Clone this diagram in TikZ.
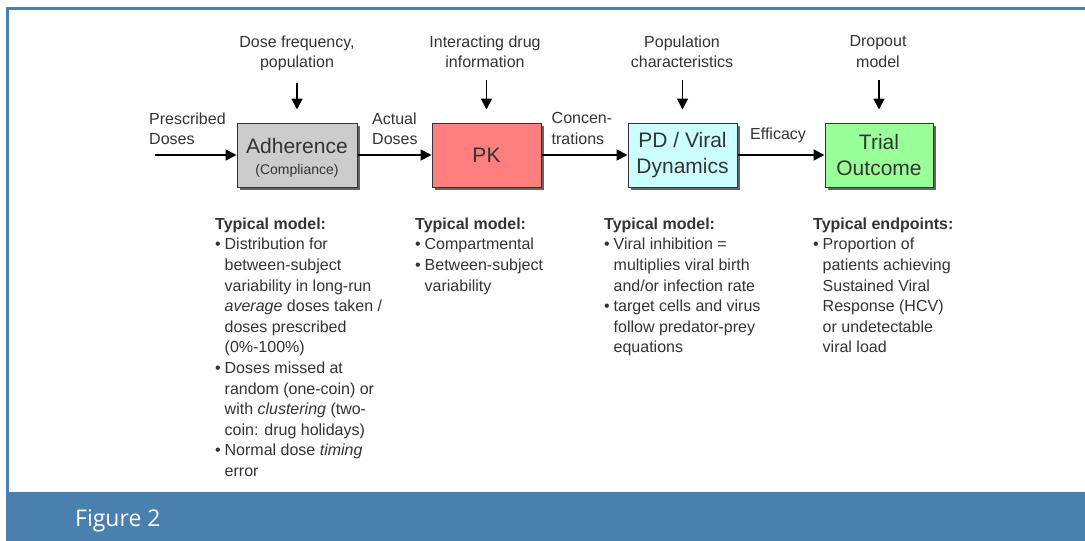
\documentclass[tikz,border=0pt]{standalone}
\usepackage{fontspec}
\setmainfont{Liberation Sans}
\newfontfamily\capfont{Open Sans}
\usepackage{tikz}
\usetikzlibrary{arrows.meta, shadows, positioning}
\definecolor{frameblue}{RGB}{74,128,173}
\definecolor{txtgray}{HTML}{333333}
\definecolor{adhgray}{HTML}{CCCCCC}
\definecolor{pkred}{HTML}{FF7F7F}
\definecolor{pdcyan}{HTML}{CCFFFF}
\definecolor{trialgreen}{HTML}{99FF99}
\newcommand{\bpt}{\makebox[9.5pt][l]{•}}
\newcommand{\hind}{\hspace*{9.5pt}}
\newcommand{\smlfont}{\fontsize{16}{20.6}\selectfont}
\newcommand{\boxfont}{\fontsize{21}{25.5}\selectfont}

\begin{document}
\begin{tikzpicture}[x=1pt, y=-1pt,
    box/.style={draw=black!80, line width=1pt, minimum height=64pt,
        inner sep=0pt, align=center, text=txtgray, font=\boxfont,
        drop shadow={shadow xshift=3pt, shadow yshift=-3pt, fill=black!60, opacity=1}},
    lbl/.style={inner sep=0pt, text=txtgray, font=\smlfont, align=center},
    blk/.style={inner sep=0pt, text=txtgray, font=\smlfont, align=left, anchor=north west},
    arr/.style={-{Triangle[length=11pt,width=11pt]}, line width=1.8pt, black}]
    \useasboundingbox (0,0) rectangle (1085,541);

    % Frame and caption bar
    \fill[frameblue] (6,7) rectangle (1085,9.5);
    \fill[frameblue] (6,7) rectangle (8.5,492);
    \fill[frameblue] (6,492) rectangle (1085,541);
    \node[anchor=base west, inner sep=0pt, white, font=\capfont\fontsize{23}{27}\selectfont]
        (cap) at (75,526) {Figure 2};

    % Model boxes
    \node[box, fill=adhgray, minimum width=120pt] (adh) at (297,155)
        {\rule{0pt}{21pt}Adherence\\[-4pt]{\fontsize{14}{17}\selectfont (Compliance)}};
    \node[box, fill=pkred, minimum width=109pt] (pk) at (486.5,155) {PK};
    \node[box, fill=pdcyan, minimum width=109pt] (pd) at (682.5,155) {PD / Viral\\Dynamics};
    \node[box, fill=trialgreen, minimum width=108pt] (trial) at (879,155) {Trial\\Outcome};

    % Inputs from above
    \node[lbl, anchor=north] (freq) at (297,35.5) {Dose frequency,\\population};
    \node[lbl, anchor=north] (drug) at (485,35.5) {Interacting drug\\information};
    \node[lbl, anchor=north] (popn) at (682,35.5) {Population\\characteristics};
    \node[lbl, anchor=north] (drop) at (878,35.5) {Dropout\\model};
    \foreach \a/\b in {freq/adh, drug/pk, popn/pd, drop/trial}
        \draw[arr, shorten <=12pt, shorten >=13pt] (\b.north |- \a.south) -- (\b.north);

    % Flow along the chain
    \coordinate (start) at (155,155);
    \draw[arr] (start) -- (adh);
    \draw[arr] (adh) -- (pk);
    \draw[arr] (pk) -- (pd);
    \draw[arr] (pd) -- (trial);
    \node[blk, align=left] (presc) at (149,112.5) {Prescribed\\Doses};
    \node[blk, align=left] (actual) at (372,112.5) {Actual\\Doses};
    \node[blk, align=left] (conc) at (551.5,112.5) {Concen-\\trations};
    \node[lbl, anchor=base west] (eff) at (750,139) {Efficacy};

    % Notes under each box
    \node[blk] (adhnote) at (215,217.5) {\textbf{Typical model:}\\
        \bpt Distribution for\\
        \hind between-subject\\
        \hind variability in long-run\\
        \hind \textit{average} doses taken /\\
        \hind doses prescribed\\
        \hind (0\%-100\%)\\
        \bpt Doses missed at\\
        \hind random (one-coin) or\\
        \hind with \textit{clustering} (two-\\
        \hind coin: drug holidays)\\
        \bpt Normal dose \textit{timing}\\
        \hind error};
    \node[blk] (pknote) at (415,217.5) {\textbf{Typical model:}\\
        \bpt Compartmental\\
        \bpt Between-subject\\
        \hind variability};
    \node[blk] (pdnote) at (604,217.5) {\textbf{Typical model:}\\
        \bpt Viral inhibition =\\
        \hind multiplies viral birth\\
        \hind and/or infection rate\\
        \bpt target cells and virus\\
        \hind follow predator-prey\\
        \hind equations};
    \node[blk] (trialnote) at (813,217.5) {\textbf{Typical endpoints:}\\
        \bpt Proportion of\\
        \hind patients achieving\\
        \hind Sustained Viral\\
        \hind Response (HCV)\\
        \hind or undetectable\\
        \hind viral load};
\end{tikzpicture}
\end{document}
